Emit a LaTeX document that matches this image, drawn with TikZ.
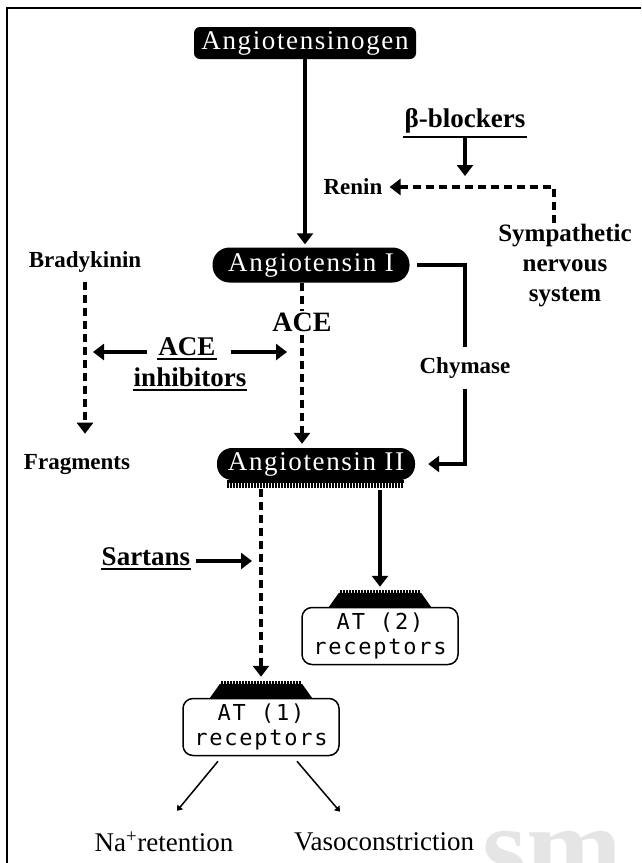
\documentclass[tikz,border=0pt]{standalone}
\usepackage{fontspec}
\setmainfont{Liberation Serif}
\newfontfamily\boxfont[LetterSpace=6]{Liberation Serif}
\newfontfamily\recfont[LetterSpace=8]{DejaVu Sans Mono}
\usetikzlibrary{arrows.meta}

\begin{document}
\begin{tikzpicture}[x=1pt,y=-1pt,
    agbox/.style={fill=black, text=white, inner sep=0pt, minimum height=32pt, rounded corners=6pt,
      font=\boxfont\fontsize{27}{28}\selectfont},
    lab/.style={font=\bfseries\fontsize{23}{26}\selectfont, inner sep=1pt},
    biglab/.style={font=\bfseries\fontsize{27}{30}\selectfont, inner sep=1pt, align=center},
    outlab/.style={font=\fontsize{27}{30}\selectfont, inner sep=1pt},
    recbox/.style={draw, line width=1.5pt, rounded corners=10pt, align=center, inner sep=0pt,
      minimum width=156pt, minimum height=57pt, font=\recfont\fontsize{22}{25}\selectfont},
    arr/.style={line width=4.5pt, -{Triangle[width=16pt,length=11pt]}},
    darr/.style={arr, line width=3.5pt, dash pattern=on 8pt off 5pt},
    thinarr/.style={line width=1.5pt, -{Triangle[width=7pt,length=5pt]}}]
    \useasboundingbox (0,0) rectangle (641,863);
    % watermark and frame
    \node[anchor=base west, text=black!10, inner sep=0pt, font=\bfseries\fontsize{115}{115}\selectfont] (wm) at (482,885) {sm};
    \draw[line width=2.5pt] (641,8) -- (7,8) -- (7,863);
    % black boxes
    \node[agbox, minimum width=222pt] (agen) at (305,43) {Angiotensinogen};
    \node[agbox, minimum width=197pt, minimum height=35pt, rounded corners=17pt] (ang1) at (311,265) {Angiotensin I};
    \node[agbox, minimum width=198pt, rounded corners=15pt] (ang2) at (316,464) {Angiotensin II};
    \fill (ang2.south) ++(-88,0) rectangle ++(176,3);
    \foreach \i in {0,...,58} \draw[line width=1.2pt] (ang2.south) ++({-88+3*\i},0) -- ++(0,8);
    % labels
    \node[biglab] (beta) at (465,121) {β-blockers};
    \node[lab] (renin) at (353,187) {Renin};
    \node[biglab, font=\bfseries\fontsize{25}{30}\selectfont] (symp) at (565,266) {Sympathetic\\nervous\\system};
    \node[lab] (brady) at (85,262) {Bradykinin};
    \node[lab] (frag) at (77,465) {Fragments};
    \node[biglab] (acetop) at (187,347) {ACE};
    \node[biglab] (acebot) at (190,377) {inhibitors};
    \node[lab, inner ysep=10pt] (chym) at (465,368) {Chymase};
    \node[biglab] (sart) at (146,557) {Sartans};
    \foreach \n in {beta,acetop,acebot,sart}
        \draw[line width=2pt] ([yshift=-2pt]\n.south west) -- ([yshift=-2pt]\n.south east);
    % receptors
    \node[recbox] (at2) at (380,636) {AT (2)\\receptors};
    \node[recbox] (at1) at (261,727) {AT (1)\\receptors};
    \foreach \r in {at1,at2}{
        \fill (\r.north) ++(-51,0) -- ++(102,0) -- ++(-10,-14) -- ++(-82,0) -- cycle;
        \foreach \i in {0,...,26} \draw[line width=1.2pt] (\r.north) ++({-39+3*\i},-13) -- ++(0,-4);
    }
    \node[outlab] (na) at (164,842) {Na\textsuperscript{+}retention};
    \node[outlab] (vaso) at (384,842) {Vasoconstriction};
    % connectors
    \draw[arr, shorten >=3pt] (agen) -- (agen |- ang1.north);
    \coordinate (acex) at (302,0);
    \draw[darr, shorten >=4pt] (ang1.south -| acex) -- (ang2.north -| acex);
    \node[biglab, font=\bfseries\fontsize{28}{30}\selectfont, fill=white, inner sep=2pt] (ace) at (302,322) {ACE};
    \draw[darr, shorten <=8pt, shorten >=20pt] (brady) -- (brady |- frag.north);
    \draw[arr, shorten <=10pt, shorten >=8pt] ([yshift=-5pt]acetop.west) -- ([yshift=-5pt]acetop.west -| brady);
    \draw[arr, shorten <=14pt, shorten >=15pt] ([yshift=-5pt]acetop.east) -- ([yshift=-5pt]acetop.east -| acex);
    \draw[darr, shorten >=6pt] ([xshift=-11pt]symp.north) |- (renin.east);
    \draw[arr, shorten <=3pt, shorten >=11pt] (beta.south) -- (beta.south |- renin);
    \draw[line width=4.5pt] ([xshift=7pt]ang1.east) -| (chym.north);
    \draw[arr, shorten >=13pt] (chym.south) |- (ang2.east);
    \draw[darr, shorten >=3pt] ([yshift=-9pt]ang2.south -| at1) -- ([yshift=18pt]at1.north);
    \draw[arr, shorten >=2pt] ([yshift=-10pt]ang2.south -| at2) -- ([yshift=18pt]at2.north);
    \draw[arr, shorten <=5pt, shorten >=9pt] ([yshift=-4pt]sart.east) -- ([yshift=-4pt]sart.east -| at1);
    \draw[thinarr] ([xshift=-43pt,yshift=-5pt]at1.south) -- ([xshift=13pt,yshift=20pt]na.north);
    \draw[thinarr] ([xshift=36pt,yshift=-5pt]at1.south) -- ([xshift=-44pt,yshift=20pt]vaso.north);
\end{tikzpicture}
\end{document}
